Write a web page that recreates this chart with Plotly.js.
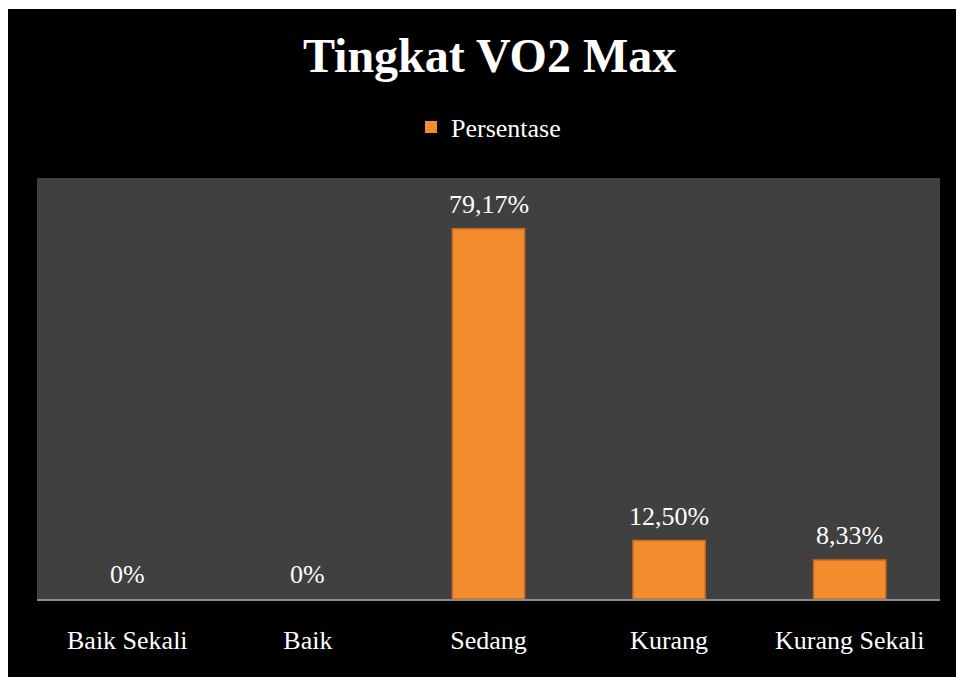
<!DOCTYPE html>
<html>
<head>
<meta charset="utf-8">
<script src="https://cdn.plot.ly/plotly-3.0.1.min.js"></script>
<style>
  html, body { margin: 0; padding: 0; background: #ffffff; width: 956px; height: 677px; overflow: hidden; }
  #chart { position: absolute; left: 8px; top: 9px; width: 948px; height: 668px; }
</style>
</head>
<body>
<div id="chart"></div>
<script>
const categories = ["Baik Sekali", "Baik", "Sedang", "Kurang", "Kurang Sekali"];
const persentase = [0, 0, 79.17, 12.50, 8.33];
const labelTexts = ["0%", "0%", "79,17%", "12,50%", "8,33%"];
const seriesName = "Persentase";
const chartTitle = "Tingkat VO2 Max";

const FONT = '"Liberation Serif", "Times New Roman", Times, serif';

const trace = {
  type: 'bar',
  x: categories,
  y: persentase,
  name: seriesName,
  marker: {
    color: '#f28c2c',
    line: { color: '#c96a1c', width: persentase.map(v => v > 0 ? 1.5 : 0) }
  },
  width: 0.4,
  showlegend: true,
  hoverinfo: 'x+y'
};

const annotations = categories.map((c, i) => ({
  x: c,
  y: persentase[i],
  xref: 'x', yref: 'y',
  text: labelTexts[i],
  showarrow: false,
  yanchor: 'bottom',
  yshift: 8,
  font: { family: FONT, size: 26, color: '#ffffff' }
}));

const layout = {
  width: 948,
  height: 668,
  paper_bgcolor: '#000000',
  plot_bgcolor: '#404040',
  font: { family: FONT, color: '#ffffff', size: 26 },
  title: {
    text: '<b>' + chartTitle + '</b>',
    font: { family: FONT, size: 48, color: '#ffffff' },
    xref: 'container', x: 0.508, xanchor: 'center',
    yref: 'container', y: 1 - 46 / 668, yanchor: 'middle'
  },
  margin: { l: 29, r: 16, t: 169, b: 78, pad: 0 },
  showlegend: true,
  legend: {
    orientation: 'h',
    x: 0.5, xanchor: 'center',
    y: 1.121, yanchor: 'middle',
    font: { family: FONT, size: 26, color: '#ffffff' },
    bgcolor: 'rgba(0,0,0,0)'
  },
  annotations: annotations,
  xaxis: {
    type: 'category',
    showgrid: false,
    zeroline: false,
    showline: true,
    linecolor: '#8c8c8c',
    linewidth: 2,
    ticks: 'outside',
    ticklen: 17,
    tickcolor: 'rgba(0,0,0,0)',
    tickfont: { family: FONT, size: 26, color: '#ffffff' },
    fixedrange: true
  },
  yaxis: {
    range: [0, 90],
    visible: false,
    showgrid: false,
    zeroline: false,
    fixedrange: true
  },
  bargap: 0.6
};

Plotly.newPlot('chart', [trace], layout, { displayModeBar: false, staticPlot: true });
</script>
</body>
</html>
